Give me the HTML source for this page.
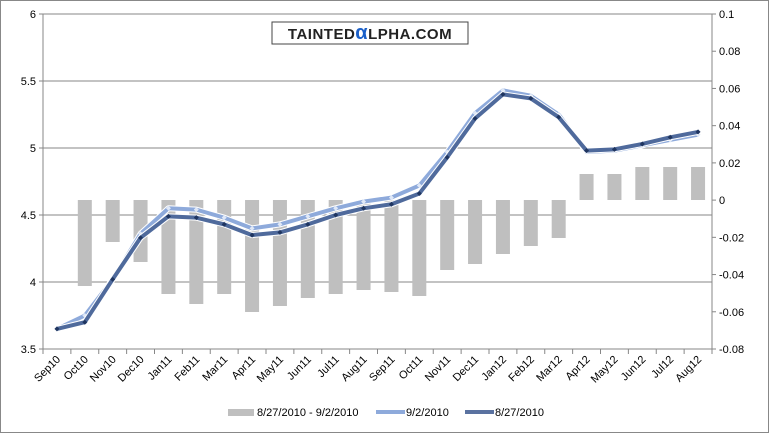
<!DOCTYPE html>
<html><head><meta charset="utf-8"><style>
html,body{margin:0;padding:0;background:#fff}
svg text{font-family:"Liberation Sans",sans-serif;font-size:11px;fill:#000}
</style></head><body>
<svg id="s" width="769" height="433" xmlns="http://www.w3.org/2000/svg">
<rect x="0.5" y="0.5" width="768" height="432" fill="#fff" stroke="#888"/>
<g id="g"></g>
<rect x="272" y="22" width="196" height="22" fill="#fff" stroke="#444"/>
<text x="370" y="39" text-anchor="middle" style="font-size:15px;font-weight:bold;letter-spacing:0.5px;fill:#222">TAINTED<tspan style="fill:#1a5fc8;font-size:20px">α</tspan>LPHA.COM</text>
<rect x="228" y="409" width="26" height="7" fill="#bfbfbf"/>
<text x="257" y="416">8/27/2010 - 9/2/2010</text>
<line x1="376" y1="412" x2="405" y2="412" stroke="#8eaadb" stroke-width="4"/>
<text x="406" y="416">9/2/2010</text>
<line x1="465" y1="412" x2="494" y2="412" stroke="#5a72a0" stroke-width="4"/>
<text x="495" y="416">8/27/2010</text>
</svg>
<script>
var g=document.getElementById('g'),h='';
var L=43,R=712,T=14,B=349,w=(R-L)/24;
function yl(v){return T+(6-v)*134}
function yr(v){return T+(0.1-v)/0.18*335}
for(var i=0;i<=5;i++){var v=6-i*0.5,y=yl(v);h+='<line x1="'+L+'" x2="'+R+'" y1="'+y+'" y2="'+y+'" stroke="#878787"/>';h+='<text x="'+(L-7)+'" y="'+(y+4)+'" text-anchor="end">'+(v==4||v==5||v==6?v:v.toFixed(1))+'</text>';h+='<line x1="'+(L-4)+'" x2="'+L+'" y1="'+y+'" y2="'+y+'" stroke="#878787"/>';}
var rl=['0.1','0.08','0.06','0.04','0.02','0','-0.02','-0.04','-0.06','-0.08'];
for(var i=0;i<=9;i++){var v=0.1-i*0.02,y=yr(v);h+='<text x="'+(R+7)+'" y="'+(y+4)+'">'+rl[i]+'</text>';h+='<line x1="'+R+'" x2="'+(R+4)+'" y1="'+y+'" y2="'+y+'" stroke="#878787"/>';}
h+='<line x1="'+L+'" x2="'+L+'" y1="'+T+'" y2="'+B+'" stroke="#878787"/><line x1="'+R+'" x2="'+R+'" y1="'+T+'" y2="'+B+'" stroke="#878787"/>';
var lab=['Sep10','Oct10','Nov10','Dec10','Jan11','Feb11','Mar11','Apr11','May11','Jun11','Jul11','Aug11','Sep11','Oct11','Nov11','Dec11','Jan12','Feb12','Mar12','Apr12','May12','Jun12','Jul12','Aug12'];
var bars=[200,286,242,262,294,304,294,312,306,298,294,290,292,296,270,264,254,246,238,174,174,167,167,167];
var d=[3.65,3.70,4.02,4.33,4.49,4.48,4.43,4.35,4.37,4.43,4.50,4.55,4.58,4.66,4.93,5.22,5.40,5.37,5.23,4.98,4.99,5.03,5.08,5.12];
var l=[3.65,3.75,4.02,4.36,4.55,4.54,4.48,4.40,4.43,4.49,4.55,4.60,4.63,4.72,4.97,5.26,5.43,5.39,5.25,4.97,4.98,5.02,5.06,5.10];
var z=200;
for(var i=0;i<=24;i++){var x=L+i*w;h+='<line x1="'+x+'" x2="'+x+'" y1="'+B+'" y2="'+(B+5)+'" stroke="#878787"/>';}
for(var i=0;i<24;i++){var cx=L+(i+0.5)*w;var b=bars[i];if(b!=z){var y1=Math.min(b,z),y2=Math.max(b,z);h+='<rect x="'+(cx-7)+'" y="'+y1+'" width="14" height="'+(y2-y1)+'" fill="#bfbfbf"/>';}
h+='<text transform="translate('+(cx+4)+','+(B+11)+') rotate(-45)" text-anchor="end">'+lab[i]+'</text>';}
function line(a,c,sw,mc){var p=a.map(function(v,i){return (L+(i+0.5)*w)+','+yl(v)}).join(' ');var s='<polyline points="'+p+'" fill="none" stroke="#fff" stroke-width="'+(sw+2)+'" stroke-linejoin="round"/><polyline points="'+p+'" fill="none" stroke="'+c+'" stroke-width="'+sw+'" stroke-linejoin="round"/>';a.forEach(function(v,i){var x=L+(i+0.5)*w,y=yl(v);s+='<path d="M'+x+' '+(y-2.5)+'L'+(x+2.5)+' '+y+'L'+x+' '+(y+2.5)+'L'+(x-2.5)+' '+y+'Z" fill="'+mc+'"/>'});return s;}
h+=line(l,'#8eaadb',4,'#dfe8f7');
h+=line(d,'#4f6a9c',4,'#1f3560');
g.innerHTML=h;
</script>
</body></html>
